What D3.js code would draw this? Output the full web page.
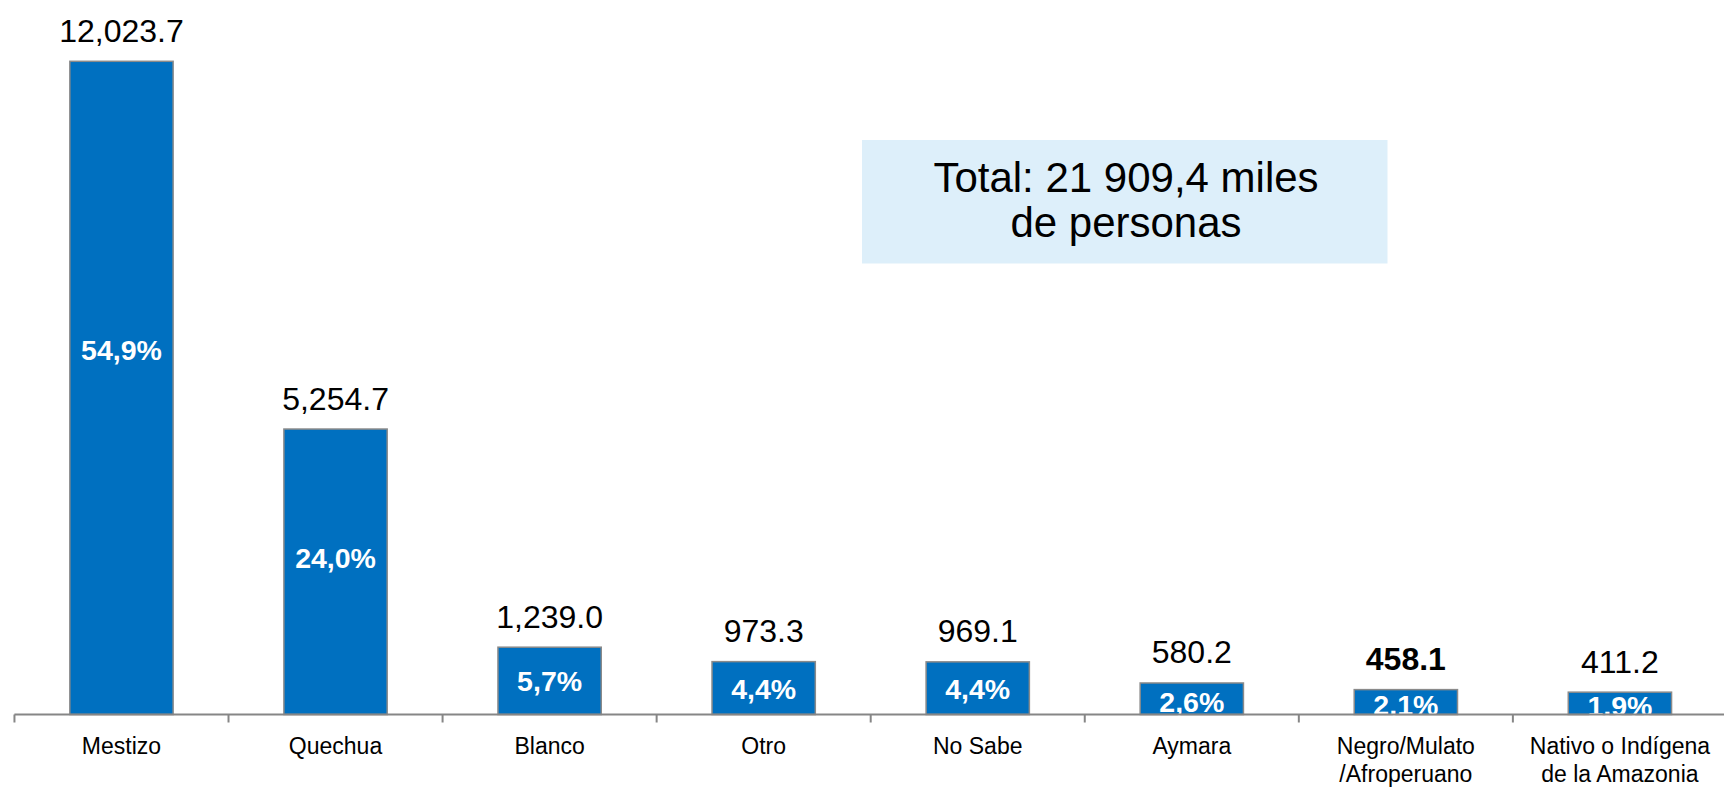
<!DOCTYPE html>
<html>
<head>
<meta charset="utf-8">
<script src="https://cdn.jsdelivr.net/npm/d3@7"></script>
<style>
  body { margin: 0; background: #fff; }
  text { font-family: "Liberation Sans", Arial, sans-serif; }
</style>
</head>
<body>
<div id="chart"></div>
<script>
// categories and values (miles de personas)
const categories = ["Mestizo", "Quechua", "Blanco", "Otro", "No Sabe", "Aymara", "Negro/Mulato\n/Afroperuano", "Nativo o Indígena\nde la Amazonia"];
const values = [12023.7, 5254.7, 1239.0, 973.3, 969.1, 580.2, 458.1, 411.2];
const percents = ["54,9%", "24,0%", "5,7%", "4,4%", "4,4%", "2,6%", "2,1%", "1,9%"];
const pctValues = [54.9, 24.0, 5.7, 4.4, 4.4, 2.6, 2.1, 1.9];
const boldLabel = "Negro/Mulato\n/Afroperuano";
const totalLines = ["Total: 21 909,4 miles", "de personas"];

const width = 1724;
const height = 787;
const baseY = 714.5;

const svg = d3.select("#chart")
  .append("svg")
  .attr("width", width)
  .attr("height", height);

// band scale for the categories
const x = d3.scaleBand()
  .domain(categories)
  .range([14.4, 1727])
  .paddingInner(0.5175)
  .paddingOuter(0.259);

// value scale
const y = d3.scaleLinear()
  .domain([0, 13000])
  .range([baseY, baseY - 13000 * 0.054326]);

// percent labels sit on their own scale (baseline position)
const yPct = d3.scaleLinear()
  .domain([0, 100])
  .range([729, 729 - 672]);

const data = categories.map((c, i) => ({cat: c, value: values[i], pct: percents[i], p: pctValues[i]}));

// total box
const box = svg.append("g");
box.append("rect")
  .attr("x", 862)
  .attr("y", 140)
  .attr("width", 525.5)
  .attr("height", 123.5)
  .attr("fill", "#DDEFFA");
box.selectAll("text")
  .data(totalLines)
  .enter()
  .append("text")
  .attr("x", 1126)
  .attr("y", (d, i) => 191.5 + i * 45.8)
  .attr("text-anchor", "middle")
  .attr("font-size", "42px")
  .attr("fill", "#000")
  .text(d => d);

// bars
svg.selectAll(".bar")
  .data(data)
  .enter()
  .append("rect")
  .attr("class", "bar")
  .attr("x", d => x(d.cat))
  .attr("y", d => y(d.value))
  .attr("width", x.bandwidth())
  .attr("height", d => baseY - y(d.value))
  .attr("fill", "#0070C0")
  .attr("stroke", "#8a8a8a")
  .attr("stroke-width", 1.5);

// percent labels inside bars
svg.selectAll(".pct")
  .data(data)
  .enter()
  .append("text")
  .attr("class", "pct")
  .attr("x", d => x(d.cat) + x.bandwidth() / 2)
  .attr("y", d => yPct(d.p))
  .attr("text-anchor", "middle")
  .attr("font-size", "28.5px")
  .attr("font-weight", "bold")
  .attr("fill", "#fff")
  .text(d => d.pct);

// value labels above bars
svg.selectAll(".val")
  .data(data)
  .enter()
  .append("text")
  .attr("class", "val")
  .attr("x", d => x(d.cat) + x.bandwidth() / 2)
  .attr("y", d => y(d.value) - 19.5)
  .attr("text-anchor", "middle")
  .attr("font-size", "32px")
  .attr("font-weight", d => d.cat === boldLabel ? "bold" : "normal")
  .attr("fill", "#000")
  .text(d => d3.format(",.1f")(d.value));

// x axis: line plus ticks at band boundaries
const axis = svg.append("g");
axis.append("line")
  .attr("x1", x.range()[0])
  .attr("x2", width)
  .attr("y1", baseY)
  .attr("y2", baseY)
  .attr("stroke", "#868686")
  .attr("stroke-width", 2);

const half = (x.step() - x.bandwidth()) / 2;
const tickXs = categories.map(c => x(c) - half).concat([x(categories[categories.length - 1]) + x.bandwidth() + half]);
axis.selectAll(".tick")
  .data(tickXs)
  .enter()
  .append("line")
  .attr("x1", d => d)
  .attr("x2", d => d)
  .attr("y1", baseY)
  .attr("y2", baseY + 8)
  .attr("stroke", "#868686")
  .attr("stroke-width", 2);

// category labels (may be two lines)
const catLabels = axis.selectAll(".cat")
  .data(categories)
  .enter()
  .append("text")
  .attr("class", "cat")
  .attr("x", d => x(d) + x.bandwidth() / 2)
  .attr("y", 754)
  .attr("text-anchor", "middle")
  .attr("font-size", "23px")
  .attr("fill", "#000");

catLabels.selectAll("tspan")
  .data(d => d.split("\n").map(line => ({line, cx: x(d) + x.bandwidth() / 2})))
  .enter()
  .append("tspan")
  .attr("x", d => d.cx)
  .attr("dy", (d, i) => i === 0 ? 0 : 28)
  .text(d => d.line);
</script>
</body>
</html>
